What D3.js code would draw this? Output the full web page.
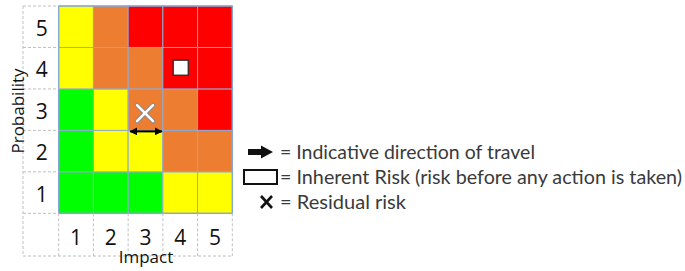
<!DOCTYPE html>
<html>
<head>
<meta charset="utf-8">
<script src="https://cdn.jsdelivr.net/npm/d3@7"></script>
<style>
  body { margin: 0; background: #fff; }
  text { font-family: "Open Sans", sans-serif; }
</style>
</head>
<body>
<div id="chart"></div>
<script>
// risk matrix data
var impactLabels = [1, 2, 3, 4, 5];
var probLabels = [1, 2, 3, 4, 5];
// rows from probability 1 (bottom) up to 5 (top), columns impact 1..5
var riskLevels = [
  ["low", "low", "low", "med", "med"],
  ["low", "med", "med", "high", "high"],
  ["low", "med", "high", "high", "vhigh"],
  ["med", "high", "high", "vhigh", "vhigh"],
  ["med", "high", "vhigh", "vhigh", "vhigh"]
];
var levelColors = {low: "#00ff00", med: "#ffff00", high: "#ed7d31", vhigh: "#ff0000"};

var inherentRisk = [{impact: 4, prob: 4}];
var residualRisk = [{impact: 3, prob: 3}];
var travelArrow = [{from: 2.5, to: 3.5, prob: 2.5}];

var legendItems = [
  {sym: "arrow", text: "= Indicative direction of travel", w: 255},
  {sym: "box", text: "= Inherent Risk (risk before any action is taken)", w: 402},
  {sym: "x", text: "= Residual risk", w: 126}
];

var svg = d3.select("#chart")
  .append("svg")
  .attr("width", 685)
  .attr("height", 271);

var gridL = 58.7, gridR = 232.3, gridT = 6, gridB = 213.3;
var labL = 23, labB = 256;

var x = d3.scaleLinear().domain([0.5, 5.5]).range([gridL, gridR]);
var y = d3.scaleLinear().domain([0.5, 5.5]).range([gridB, gridT]);
var cw = x(1.5) - x(0.5), ch = y(0.5) - y(1.5);

// cells
var cells = [];
riskLevels.forEach(function(row, i) {
  row.forEach(function(lv, j) {
    cells.push({prob: probLabels[i], impact: impactLabels[j], level: lv});
  });
});

svg.append("g").selectAll("rect")
  .data(cells)
  .enter().append("rect")
  .attr("x", function(d) { return x(d.impact - 0.5); })
  .attr("y", function(d) { return y(d.prob + 0.5); })
  .attr("width", cw)
  .attr("height", ch)
  .attr("fill", function(d) { return levelColors[d.level]; })
  .attr("stroke", "#8eaad0")
  .attr("stroke-width", 1);

svg.append("rect")
  .attr("x", gridL).attr("y", gridT)
  .attr("width", gridR - gridL).attr("height", gridB - gridT)
  .attr("fill", "none").attr("stroke", "#7fa6da").attr("stroke-width", 1.2);

// dashed label cells
var dash = svg.append("g")
  .attr("stroke", "#c0c0c0")
  .attr("stroke-width", 1)
  .attr("stroke-dasharray", "3,2");

var hBounds = d3.range(0.5, 6, 1);
dash.selectAll(".hl").data(hBounds).enter().append("line")
  .attr("x1", labL).attr("x2", gridL)
  .attr("y1", function(d) { return y(d); })
  .attr("y2", function(d) { return y(d); });
dash.selectAll(".vl").data(hBounds).enter().append("line")
  .attr("y1", gridB).attr("y2", labB)
  .attr("x1", function(d) { return x(d); })
  .attr("x2", function(d) { return x(d); });
dash.append("line").attr("x1", labL).attr("x2", labL).attr("y1", gridT).attr("y2", labB);
dash.append("line").attr("x1", labL).attr("x2", gridR).attr("y1", labB).attr("y2", labB);

// tick labels
svg.append("g").selectAll("text")
  .data(probLabels)
  .enter().append("text")
  .attr("x", (labL + gridL) / 2 + 1)
  .attr("y", function(d) { return y(d) + 9; })
  .attr("text-anchor", "middle")
  .style("font-size", "21px")
  .attr("fill", "#111")
  .text(function(d) { return d; });

svg.append("g").selectAll("text")
  .data(impactLabels)
  .enter().append("text")
  .attr("x", function(d) { return x(d); })
  .attr("y", 245)
  .attr("text-anchor", "middle")
  .style("font-size", "21px")
  .attr("fill", "#111")
  .text(function(d) { return d; });

svg.append("text")
  .attr("x", 146).attr("y", 263)
  .attr("text-anchor", "middle")
  .style("font-size", "17px")
  .attr("fill", "#111")
  .text("Impact");

svg.append("text")
  .attr("transform", "translate(18,111) rotate(-90)")
  .attr("dy", "0.35em")
  .attr("text-anchor", "middle")
  .style("font-size", "17px")
  .attr("fill", "#111")
  .text("Probability");

// markers
var defs = svg.append("defs");
defs.append("marker")
  .attr("id", "ah")
  .attr("viewBox", "0 0 10 10")
  .attr("refX", 9).attr("refY", 5)
  .attr("markerWidth", 4).attr("markerHeight", 4)
  .attr("orient", "auto-start-reverse")
  .append("path").attr("d", "M0,0L10,5L0,10z").attr("fill", "#000");

svg.append("g").selectAll("line")
  .data(travelArrow)
  .enter().append("line")
  .attr("x1", function(d) { return x(d.from) + 2; })
  .attr("x2", function(d) { return x(d.to) - 1; })
  .attr("y1", function(d) { return y(d.prob) + 1; })
  .attr("y2", function(d) { return y(d.prob) + 1; })
  .attr("stroke", "#000").attr("stroke-width", 2)
  .attr("marker-start", "url(#ah)")
  .attr("marker-end", "url(#ah)");

svg.append("g").selectAll("rect")
  .data(inherentRisk)
  .enter().append("rect")
  .attr("x", function(d) { return x(d.impact) + 0.5 - 7.5; })
  .attr("y", function(d) { return y(d.prob) - 0.5 - 7.5; })
  .attr("width", 15).attr("height", 15)
  .attr("fill", "#fff")
  .attr("stroke", "#222").attr("stroke-width", 1.2);

var xg = svg.append("g").selectAll("g")
  .data(residualRisk)
  .enter().append("g")
  .attr("transform", function(d) { return "translate(" + (x(d.impact) - 0.5) + "," + (y(d.prob) + 3.5) + ")"; });
xg.append("path")
  .attr("d", "M-8,-8L8,8M8,-8L-8,8")
  .attr("stroke", "#8a8a8a").attr("stroke-width", 4.5).attr("stroke-linecap", "round");
xg.append("path")
  .attr("d", "M-8,-8L8,8M8,-8L-8,8")
  .attr("stroke", "#fff").attr("stroke-width", 2.5).attr("stroke-linecap", "round");

// legend
var legend = svg.append("g");
var leg = legend.selectAll("g")
  .data(legendItems)
  .enter().append("g")
  .attr("transform", function(d, i) { return "translate(0," + (152 + i * 25) + ")"; });

leg.append("text")
  .attr("x", 280)
  .attr("dy", "0.35em")
  .attr("textLength", function(d) { return d.w; })
  .attr("lengthAdjust", "spacingAndGlyphs")
  .style("font-family", "Lato, sans-serif")
  .style("font-size", "19px")
  .attr("fill", "#3a3a3a")
  .text(function(d) { return d.text; });

leg.filter(function(d) { return d.sym == "arrow"; })
  .append("path")
  .attr("d", "M248,-3L261,-3L261,-6.5L273,0L261,6.5L261,3L248,3Z")
  .attr("fill", "#111");

leg.filter(function(d) { return d.sym == "box"; })
  .append("rect")
  .attr("x", 244).attr("y", -7)
  .attr("width", 33).attr("height", 14)
  .attr("fill", "#fff").attr("stroke", "#111").attr("stroke-width", 2);

leg.filter(function(d) { return d.sym == "x"; })
  .append("path")
  .attr("d", "M261,-6L272,6M272,-6L261,6")
  .attr("stroke", "#111").attr("stroke-width", 2.6);
</script>
</body>
</html>
